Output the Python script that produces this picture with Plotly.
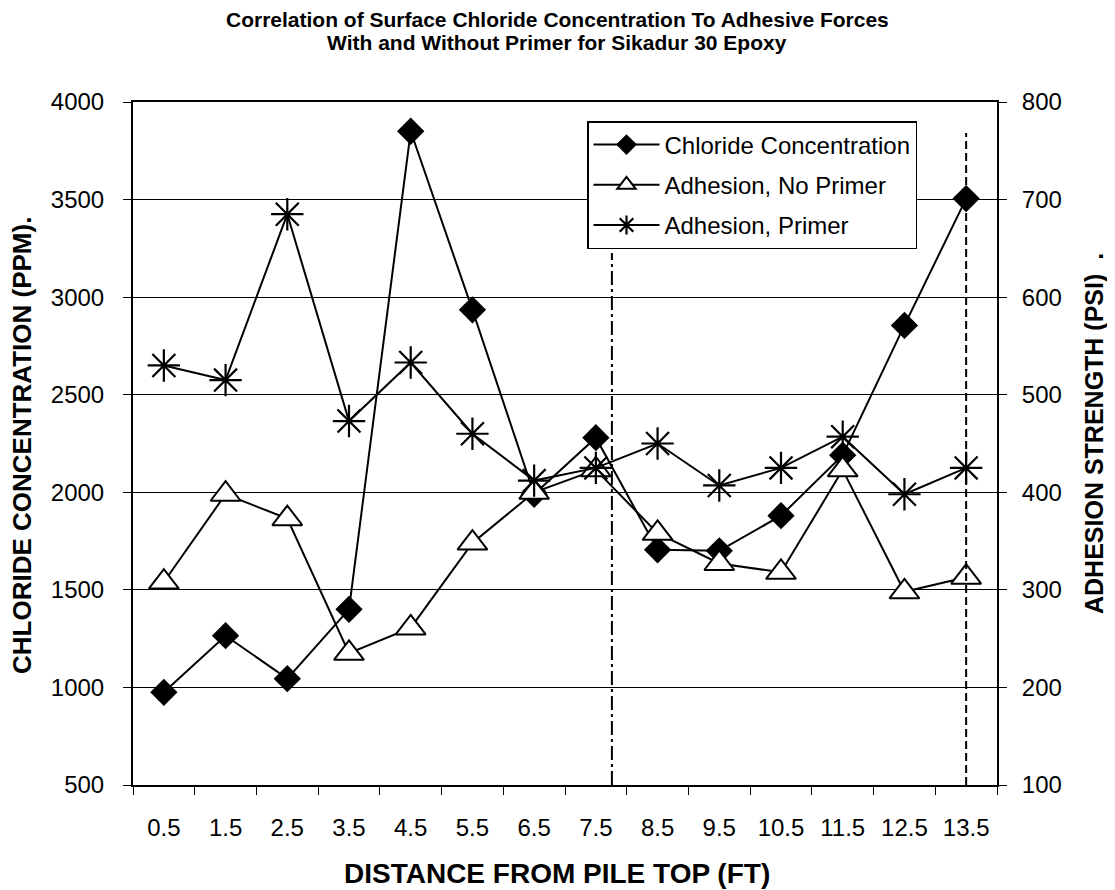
import plotly.graph_objects as go

categories = ["0.5", "1.5", "2.5", "3.5", "4.5", "5.5", "6.5", "7.5", "8.5", "9.5", "10.5", "11.5", "12.5", "13.5"]
chloride_ppm = [975, 1265, 1045, 1400, 3850, 2935, 1990, 2280, 1705, 1700, 1880, 2190, 2855, 3505]
adhesion_no_primer = [308, 398, 373, 235, 261, 348, 400, 423, 358, 327, 318, 423, 298, 313]
adhesion_primer = [530, 515, 685, 473, 533, 460, 412, 425, 450, 407, 425, 457, 398, 425]

# reference dashed lines: (category index position, top value on left axis, dash pattern)
ref_lines = [(7.26, 3226, "14px,4px,3px,4px"), (13.0, 3841, "8px,4px")]

FONT = "Liberation Sans, Arial, sans-serif"

# page geometry (browser body has an 8px margin)
W, H = 1107, 882
L, T, R, B = 125, 94, 118, 105
PX0, PX1, PY0, PY1 = 133, 997, 102, 785


def px(x):
    return (x - PX0) / (PX1 - PX0)


def py(y):
    return (PY1 - y) / (PY1 - PY0)


fig = go.Figure()
fig.add_trace(go.Scatter(
    x=categories, y=chloride_ppm, name="Chloride Concentration", mode="lines+markers",
    legendgroup="a",
    line=dict(color="black", width=2),
    marker=dict(symbol="diamond", size=21, color="black"),
    yaxis="y"))
fig.add_trace(go.Scatter(
    x=categories, y=adhesion_no_primer, name="Adhesion, No Primer", mode="lines+markers",
    legendgroup="b",
    line=dict(color="black", width=2),
    marker=dict(symbol="triangle-up", size=26, color="white", line=dict(color="black", width=2)),
    yaxis="y2"))
fig.add_trace(go.Scatter(
    x=categories, y=adhesion_primer, name="Adhesion, Primer", mode="lines+markers",
    legendgroup="c",
    line=dict(color="black", width=2),
    marker=dict(symbol="asterisk-open", size=27, color="black", line=dict(color="black", width=2.2)),
    yaxis="y2"))

for xpos, ytop, dash in ref_lines:
    fig.add_shape(type="line", xref="x", yref="y", x0=xpos, x1=xpos, y0=500, y1=ytop,
                  line=dict(color="black", width=2, dash=dash))

annotations = [
    dict(text="<b>Correlation of Surface Chloride Concentration To Adhesive Forces</b>",
         x=px(557), y=py(19), font=dict(size=21)),
    dict(text="<b>With and Without Primer for Sikadur 30 Epoxy</b>",
         x=px(557), y=py(42), font=dict(size=21)),
    dict(text="<b>DISTANCE FROM PILE TOP (FT)</b>", x=px(557), y=py(873), font=dict(size=28)),
    dict(text="<b>CHLORIDE CONCENTRATION (PPM).</b>", x=px(22), y=py(446), textangle=-90,
         font=dict(size=26)),
    dict(text="<b>ADHESION STRENGTH (PSI)\u00a0\u00a0.</b>", x=px(1094), y=py(434), textangle=-90,
         font=dict(size=25)),
]
for a in annotations:
    a.update(xref="paper", yref="paper", xanchor="center", yanchor="middle", showarrow=False)
    a["font"].update(family=FONT, color="black")

fig.update_layout(
    width=W, height=H,
    margin=dict(l=L, r=R, t=T, b=B),
    paper_bgcolor="white", plot_bgcolor="white",
    font=dict(family=FONT, color="black", size=24),
    annotations=annotations,
    showlegend=True,
    legend=dict(x=px(587), y=py(121), xanchor="left", yanchor="top", bgcolor="white",
                bordercolor="black", borderwidth=1.5, font=dict(size=24, family=FONT),
                tracegroupgap=6, itemwidth=66),
    xaxis=dict(type="category", range=[-0.5, 13.5], showgrid=False, showline=True, linecolor="black",
               linewidth=2, mirror=True, ticks="outside", tickson="boundaries", ticklen=8,
               tickcolor="black", tickfont=dict(size=24), ticklabelstandoff=20),
    yaxis=dict(range=[500, 4000], dtick=500, showgrid=True, gridcolor="black", gridwidth=1.3,
               showline=True, linecolor="black", linewidth=2, ticks="outside", ticklen=8,
               tickcolor="black", tickfont=dict(size=24), zeroline=False, ticklabelstandoff=14),
    yaxis2=dict(range=[100, 800], dtick=100, overlaying="y", side="right", showgrid=False,
                showline=True, linecolor="black", linewidth=2, ticks="outside", ticklen=8,
                tickcolor="black", tickfont=dict(size=24), zeroline=False, ticklabelstandoff=10),
)

fig.write_html("out.html")
